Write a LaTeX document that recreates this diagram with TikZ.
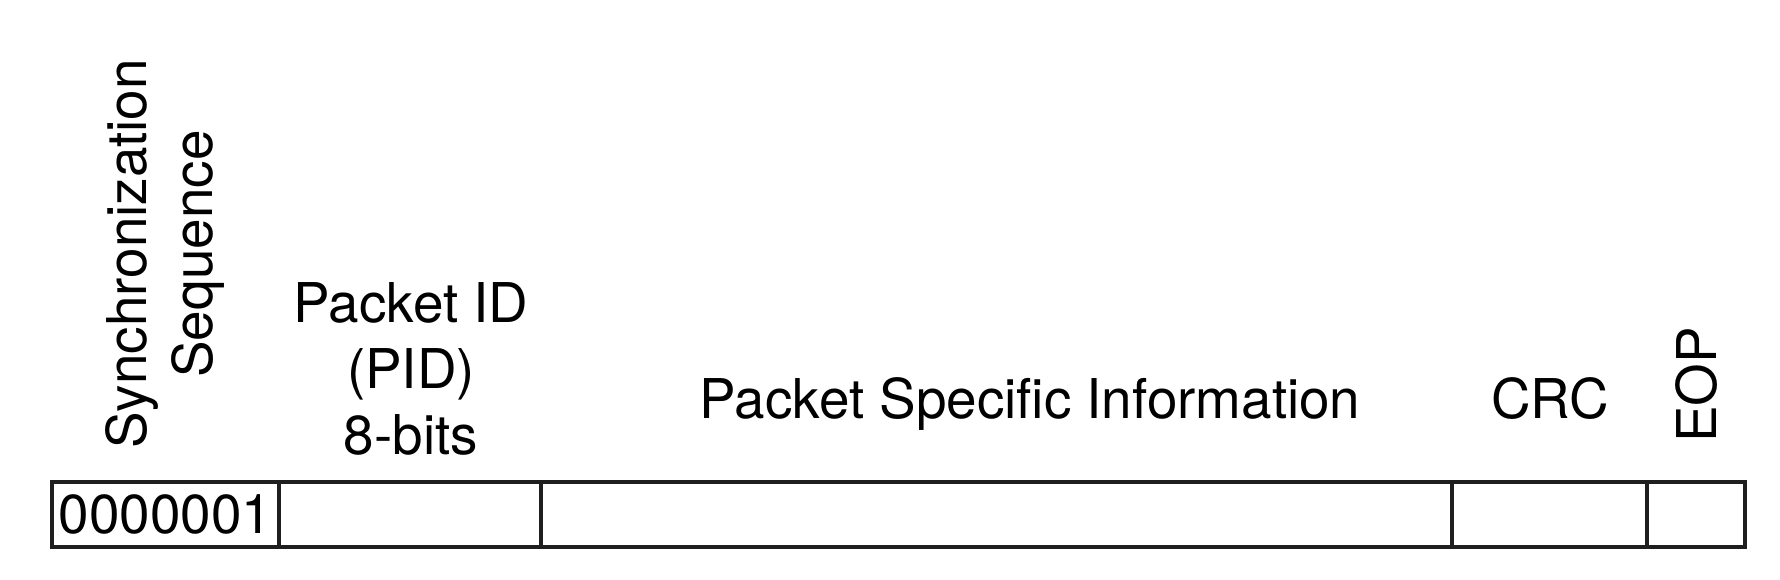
\documentclass[tikz,border=0pt]{standalone}
\usepackage{fontspec}
\setmainfont{TeX Gyre Heros}
\usetikzlibrary{positioning}

\begin{document}
\begin{tikzpicture}[
  x=0.1mm, y=0.1mm,
  node distance = 0pt,
  every node/.style = {font=\fontsize{15.6}{18.8}\selectfont},
  cell/.style   = {rectangle, draw=black!88, line width=1.1pt, outer sep=0pt,
                   inner sep=0pt, minimum height=6.5mm, minimum width=#1},
  vlabel/.style = {rotate=90, align=center, inner sep=0pt},
  hlabel/.style = {align=center, inner sep=0pt}
]
\useasboundingbox (0,0) rectangle (1780,580);

% packet fields
\node[cell=22.7mm, anchor=south west] at (52,33) (sync) {};
\node[cell=26.2mm, right=of sync] (pid)  {};
\node[cell=91.1mm, right=of pid]  (info) {};
\node[cell=19.5mm, right=of info] (crc)  {};
\node[cell=9.8mm,  right=of crc]  (eop)  {};

\node[anchor=west, inner sep=0pt] (sync_val) at ([xshift=0.6mm]sync.west) {0000001};

% field labels
\node[vlabel] (sync_lbl) at (165,326) {Synchronization\\Sequence};
\node[hlabel] (pid_lbl)  at (411,211) {Packet ID\\(PID)\\8-bits};
\node[hlabel, anchor=base] (info_lbl) at (1030,161) {Packet Specific Information};
\node[hlabel, anchor=base] (crc_lbl)  at (1550,161) {CRC};
\node[vlabel] (eop_lbl)  at (1696,195) {EOP};
\end{tikzpicture}
\end{document}
